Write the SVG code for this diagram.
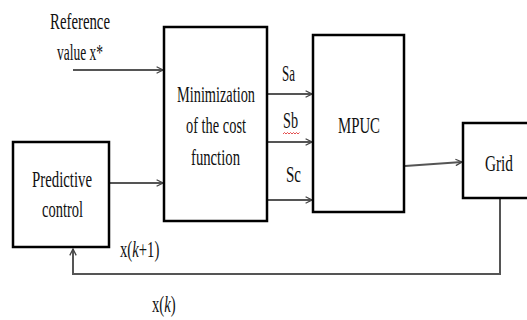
<svg xmlns="http://www.w3.org/2000/svg" width="527" height="320" viewBox="0 0 527 320">
<style>
.box{fill:#fff;stroke:#000;stroke-width:2.5}
.ln{fill:none;stroke:#555;stroke-width:2}
text{font-family:"Liberation Serif","Times New Roman",serif;font-size:23px;fill:#111}
</style>
<defs>
<marker id="ah" viewBox="0 0 10 10" refX="9" refY="5" markerWidth="8" markerHeight="8" markerUnits="userSpaceOnUse" orient="auto">
<path d="M1,1 L9,5 L1,9" fill="none" stroke="#444" stroke-width="1.6"/>
</marker>
</defs>
<rect width="527" height="320" fill="#fff"/>
<g id="connectors">
<line class="ln" x1="73" y1="70" x2="163" y2="70" marker-end="url(#ah)"/>
<line class="ln" x1="110" y1="183" x2="163" y2="183" marker-end="url(#ah)"/>
<line class="ln" x1="268" y1="94" x2="312" y2="94" marker-end="url(#ah)"/>
<line class="ln" x1="268" y1="142" x2="312" y2="142" marker-end="url(#ah)"/>
<line class="ln" x1="268" y1="200" x2="312" y2="200" marker-end="url(#ah)"/>
<line class="ln" x1="405" y1="166" x2="462" y2="162" marker-end="url(#ah)"/>
<polyline class="ln" points="500,199 500,274 73,274 73,249" marker-end="url(#ah)"/>
</g>
<g id="reference-label">
<text x="50" y="29" textLength="60" lengthAdjust="spacingAndGlyphs">Reference</text>
<text x="57" y="60" textLength="46" lengthAdjust="spacingAndGlyphs">value x*</text>
</g>
<g id="minimization">
<rect class="box" x="164" y="27" width="103" height="194"/>
<text x="177" y="102" textLength="78" lengthAdjust="spacingAndGlyphs">Minimization</text>
<text x="186" y="133" textLength="60" lengthAdjust="spacingAndGlyphs">of the cost</text>
<text x="191" y="165" textLength="49" lengthAdjust="spacingAndGlyphs">function</text>
</g>
<g id="predictive">
<rect class="box" x="13" y="142" width="96" height="105"/>
<text x="32" y="187" textLength="60" lengthAdjust="spacingAndGlyphs">Predictive</text>
<text x="42" y="217" textLength="41" lengthAdjust="spacingAndGlyphs">control</text>
</g>
<g id="mpuc">
<rect class="box" x="313" y="35" width="91" height="177"/>
<text x="338" y="133" textLength="42" lengthAdjust="spacingAndGlyphs">MPUC</text>
</g>
<g id="grid">
<rect class="box" x="463" y="123" width="80" height="75"/>
<text x="485" y="171" textLength="28" lengthAdjust="spacingAndGlyphs">Grid</text>
</g>
<g id="labels">
<text x="282" y="81" textLength="13" lengthAdjust="spacingAndGlyphs">Sa</text>
<text x="283" y="128" textLength="15" lengthAdjust="spacingAndGlyphs">Sb</text>
<path d="M283,134 l1.5,-1.5 l1.5,1.5 l1.5,-1.5 l1.5,1.5 l1.5,-1.5 l1.5,1.5 l1.5,-1.5 l1.5,1.5 l1.5,-1.5 l1.5,1.5 l1.5,-1.5" fill="none" stroke="#d22" stroke-width="0.8"/>
<text x="286" y="182" textLength="15" lengthAdjust="spacingAndGlyphs">Sc</text>
<text transform="translate(120,257) scale(0.64,1)">x(<tspan font-style="italic">k</tspan>+1)</text>
<text transform="translate(152,312) scale(0.64,1)">x(<tspan font-style="italic">k</tspan>)</text>
</g>
</svg>
